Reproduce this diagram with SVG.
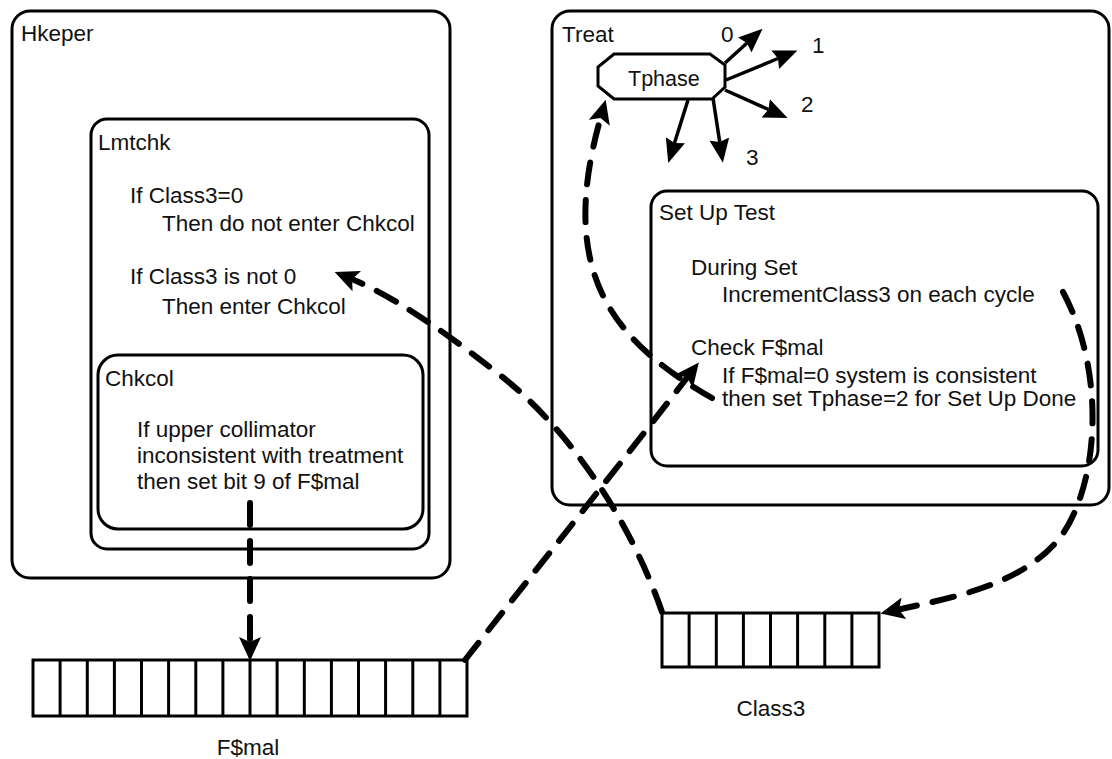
<svg xmlns="http://www.w3.org/2000/svg" width="1112" height="759" viewBox="0 0 1112 759">
<style>
.box{fill:none;stroke:#000;stroke-width:3}
.reg{fill:#fff;stroke:#000;stroke-width:3}
.cell{stroke:#000;stroke-width:3}
text{font-family:"Liberation Sans",Arial,Helvetica,sans-serif;font-size:22.5px;fill:#111}
.dash{fill:none;stroke:#000;stroke-width:6;stroke-dasharray:22 16;stroke-linecap:round}
.sol{fill:none;stroke:#000;stroke-width:3.5}
</style>
<defs>
<marker id="dh" viewBox="0 0 24 22" refX="3" refY="11" markerWidth="24" markerHeight="22" markerUnits="userSpaceOnUse" orient="auto">
<path d="M0,0 L24,11 L0,22 L5,11 z" fill="#000" stroke="none"/>
</marker>
<marker id="sh" viewBox="0 0 24 20" refX="3" refY="10" markerWidth="24" markerHeight="20" markerUnits="userSpaceOnUse" orient="auto">
<path d="M0,0 L24,10 L0,20 L3,10 z" fill="#000" stroke="none"/>
</marker>
</defs>
<rect width="1112" height="759" fill="#fff"/>

<g id="hkeper">
<rect class="box" x="12" y="11" width="438" height="567" rx="18"/>
<text x="21" y="41">Hkeper</text>
</g>
<g id="lmtchk">
<rect class="box" x="91" y="119" width="338" height="430" rx="16"/>
<text x="98" y="150">Lmtchk</text>
<text x="130" y="203">If Class3=0</text>
<text x="162" y="231">Then do not enter Chkcol</text>
<text x="130" y="284">If Class3 is not 0</text>
<text x="162" y="314">Then enter Chkcol</text>
</g>
<g id="chkcol">
<rect class="box" x="98" y="355" width="325" height="174" rx="20"/>
<text x="105" y="386">Chkcol</text>
<text x="137" y="437">If upper collimator</text>
<text x="137" y="463">inconsistent with treatment</text>
<text x="137" y="489">then set bit 9 of F$mal</text>
</g>
<g id="treat">
<rect class="box" x="552" y="11" width="557" height="494" rx="18"/>
<text x="562" y="42">Treat</text>
</g>
<g id="tphase">
<polygon class="box" points="614,54 710,54 725,65 725,87 712,99 614,99 598,86 598,67"/>
<text x="628" y="86" style="font-size:21.5px">Tphase</text>
</g>
<g id="setuptest">
<rect class="box" x="651" y="191" width="447" height="275" rx="16"/>
<text x="659" y="220">Set Up Test</text>
<text x="691" y="275">During Set</text>
<text x="722" y="302">IncrementClass3 on each cycle</text>
<text x="691" y="355">Check F$mal</text>
<text x="722" y="383">If F$mal=0 system is consistent</text>
<text x="722" y="406">then set Tphase=2 for Set Up Done</text>
</g>
<g id="fmal">
<rect class="reg" x="33" y="660" width="434" height="56"/>
<path class="cell" d="M60.1,660V716M87.3,660V716M114.4,660V716M141.5,660V716M168.6,660V716M195.8,660V716M222.9,660V716M250,660V716M277.1,660V716M304.3,660V716M331.4,660V716M358.5,660V716M385.6,660V716M412.8,660V716M439.9,660V716"/>
<text x="248" y="755" text-anchor="middle">F$mal</text>
</g>
<g id="class3">
<rect class="reg" x="662" y="613" width="217" height="54"/>
<path class="cell" d="M689.1,613V667M716.3,613V667M743.4,613V667M770.5,613V667M797.6,613V667M824.8,613V667M851.9,613V667"/>
<text x="771" y="716" text-anchor="middle">Class3</text>
</g>
<g id="phase-labels">
<text x="721" y="42">0</text>
<text x="812" y="53">1</text>
<text x="801" y="112">2</text>
<text x="746" y="165">3</text>
</g>
<g id="connectors">
<path class="sol" d="M725,63 L747,43" marker-end="url(#sh)"/>
<path class="sol" d="M726,80 L778,58.5" marker-end="url(#sh)"/>
<path class="sol" d="M725,90 L768.5,109.5" marker-end="url(#sh)"/>
<path class="sol" d="M688,100 L674.5,143" marker-end="url(#sh)"/>
<path class="sol" d="M713,98 L719.7,142" marker-end="url(#sh)"/>
<path class="dash" d="M250,503 L250,640" marker-end="url(#dh)"/>
<path class="dash" d="M465,660 C500,615 600,490 686,379" marker-end="url(#dh)"/>
<path class="dash" d="M712,398 C610,340 558,270 600,120" marker-end="url(#dh)"/>
<path class="dash" d="M1063,292 C1105,370 1100,480 1062,535 C1025,585 950,598 901,609" marker-end="url(#dh)"/>
<path class="dash" d="M662,612 C630,520 570,430 500,375 S385,293 354,280" marker-end="url(#dh)"/>
</g>
</svg>
